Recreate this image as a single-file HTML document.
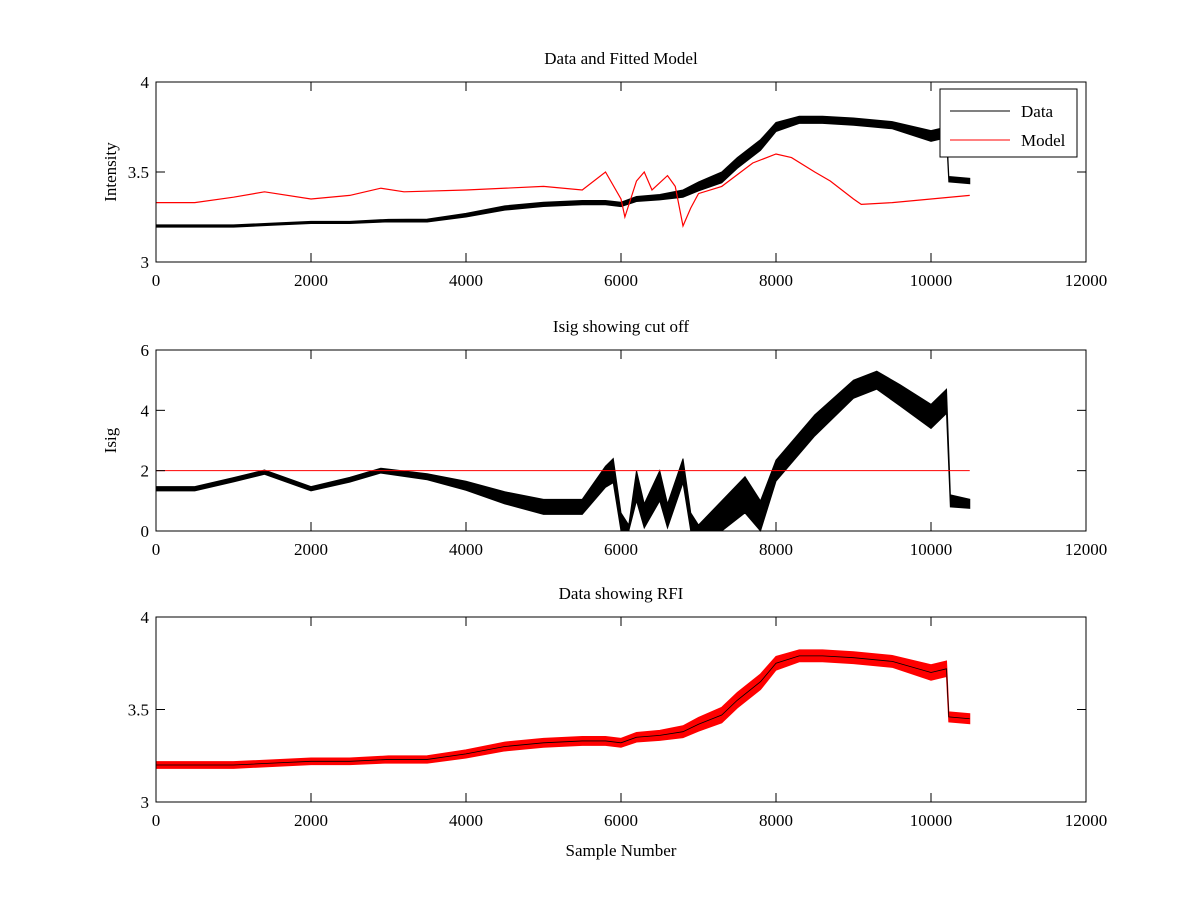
<!DOCTYPE html>
<html><head><meta charset="utf-8"><style>
body{margin:0;background:#fff}
svg{display:block;font-family:"Liberation Serif",serif}
</style></head><body>
<svg id="fig" width="1200" height="900"></svg>
<script>
const xTicks=[0,2000,4000,6000,8000,10000,12000];
const sampleX=[0,500,1000,1500,2000,2500,3000,3500,4000,4500,5000,5500,5800,6000,6200,6500,6800,7000,7300,7500,7800,8000,8300,8600,9000,9500,10000,10200,10230,10500];
const dataVals=[3.2,3.2,3.2,3.21,3.22,3.22,3.23,3.23,3.26,3.3,3.32,3.33,3.33,3.32,3.35,3.36,3.38,3.42,3.47,3.55,3.65,3.75,3.79,3.79,3.78,3.76,3.7,3.72,3.46,3.45];
const dataSpread=[0.006,0.006,0.006,0.006,0.006,0.006,0.007,0.008,0.01,0.012,0.012,0.012,0.012,0.012,0.014,0.015,0.02,0.025,0.03,0.03,0.03,0.025,0.02,0.02,0.02,0.02,0.03,0.03,0.015,0.015];
const modelX=[0,500,1000,1400,2000,2500,2900,3200,4000,5000,5500,5800,6000,6050,6200,6300,6400,6600,6700,6800,6900,7000,7300,7700,8000,8200,8500,8700,9000,9100,9500,10000,10500];
const modelVals=[3.33,3.33,3.36,3.39,3.35,3.37,3.41,3.39,3.4,3.42,3.4,3.5,3.35,3.25,3.45,3.5,3.4,3.48,3.42,3.2,3.3,3.38,3.42,3.55,3.6,3.58,3.5,3.45,3.35,3.32,3.33,3.35,3.37];
const isigX=[0,500,1000,1400,2000,2500,2900,3500,4000,4500,5000,5500,5800,5900,6000,6100,6200,6300,6500,6600,6800,6900,7000,7300,7600,7800,8000,8500,9000,9300,9600,10000,10200,10250,10500];
const isigVals=[1.4,1.4,1.7,1.95,1.4,1.7,2.0,1.8,1.5,1.1,0.8,0.8,1.8,2.0,0.3,0.1,1.5,0.5,1.5,0.5,2.0,0.3,0.1,0.5,1.2,0.5,2.0,3.5,4.7,5.0,4.5,3.8,4.3,1.0,0.9];
const isigSpread=[0.07,0.07,0.07,0.07,0.07,0.08,0.08,0.1,0.15,0.2,0.25,0.25,0.35,0.4,0.3,0.1,0.5,0.4,0.5,0.4,0.4,0.3,0.1,0.5,0.6,0.5,0.35,0.35,0.3,0.3,0.35,0.4,0.4,0.2,0.15];
const cutoff=2;

const NS="http://www.w3.org/2000/svg";
const svg=document.getElementById('fig');
function el(tag,attrs,parent){const e=document.createElementNS(NS,tag);for(const k in attrs)e.setAttribute(k,attrs[k]);(parent||svg).appendChild(e);return e;}
const X0=156,X1=1086;
const sx=v=>X0+(v/12000)*(X1-X0);

function axes(name,top,bot,ymin,ymax,yTicks,title,ylabel){
  const g=el('g',{});
  
  
  const sy=v=>bot-(v-ymin)/(ymax-ymin)*(bot-top);
  el('rect',{x:X0,y:top,width:X1-X0,height:bot-top,fill:'#fff',stroke:'none'},g);
  return {g,sy,top,bot,yTicks,title,ylabel};
}
function frame(a){
  const {g,sy,top,bot,yTicks,title,ylabel}=a;
  el('rect',{x:X0,y:top,width:X1-X0,height:bot-top,fill:'none',stroke:'#000','stroke-width':1},g);
  xTicks.forEach(t=>{const x=sx(t);
    el('line',{x1:x,x2:x,y1:bot,y2:bot-9,stroke:'#000'},g);
    el('line',{x1:x,x2:x,y1:top,y2:top+9,stroke:'#000'},g);
    const tx=el('text',{x:x,y:bot+24,'text-anchor':'middle','font-size':17},g);tx.textContent=t;
    
    
  });
  yTicks.forEach(t=>{const y=sy(t);
    el('line',{x1:X0,x2:X0+9,y1:y,y2:y,stroke:'#000'},g);
    el('line',{x1:X1,x2:X1-9,y1:y,y2:y,stroke:'#000'},g);
    const tx=el('text',{x:X0-7,y:y+6,'text-anchor':'end','font-size':17},g);tx.textContent=t;
    
    
  });
  const tt=el('text',{x:(X0+X1)/2,y:top-18,'text-anchor':'middle','font-size':17},g);tt.textContent=title;
  
  
  if(ylabel){const yl=el('text',{x:0,y:0,'text-anchor':'middle','font-size':17,transform:`translate(${X0-40},${(top+bot)/2}) rotate(-90)`},g);yl.textContent=ylabel;
    
    }
}
function band(a,xs,vs,sp,color,name){
  const up=xs.map((x,i)=>sx(x)+','+a.sy(vs[i]+sp[i]));
  const lo=xs.map((x,i)=>sx(x)+','+a.sy(vs[i]-sp[i])).reverse();
  const p=el('polygon',{points:up.concat(lo).join(' '),fill:color,stroke:color,'stroke-width':1},a.g);
  
  
}
function line(a,xs,vs,color,w,name){
  const p=el('polyline',{points:xs.map((x,i)=>sx(x)+','+a.sy(vs[i])).join(' '),fill:'none',stroke:color,'stroke-width':w},a.g);
  
  
}

const a1=axes('data-model-axes',82,262,3,4,[3,3.5,4],'Data and Fitted Model','Intensity');
band(a1,sampleX,dataVals,dataSpread,'#000','data-line');
line(a1,modelX,modelVals,'#f00',1.2,'model-line');
frame(a1);
const lg=el('g',{});


el('rect',{x:940,y:89,width:137,height:68,fill:'#fff',stroke:'#000'},lg);
el('line',{x1:950,x2:1010,y1:111,y2:111,stroke:'#000'},lg);
el('line',{x1:950,x2:1010,y1:140,y2:140,stroke:'#f00'},lg);
let t=el('text',{x:1021,y:117,'font-size':17},lg);t.textContent='Data';
t=el('text',{x:1021,y:146,'font-size':17},lg);t.textContent='Model';

const a2=axes('isig-axes',350,531,0,6,[0,2,4,6],'Isig showing cut off','Isig');
band(a2,isigX,isigVals,isigSpread,'#000','isig-line');
line(a2,[0,10500],[cutoff,cutoff],'#f00',1,'cutoff-line');
frame(a2);

const a3=axes('rfi-axes',617,802,3,4,[3,3.5,4],'Data showing RFI','');
band(a3,sampleX,dataVals,dataSpread.map(s=>s+0.012),'#f00','rfi-markers');
line(a3,sampleX,dataVals,'#000',0.8,'rfi-data-line');
frame(a3);
t=el('text',{x:(X0+X1)/2,y:856,'text-anchor':'middle','font-size':17});t.textContent='Sample Number';


</script>
</body></html>
